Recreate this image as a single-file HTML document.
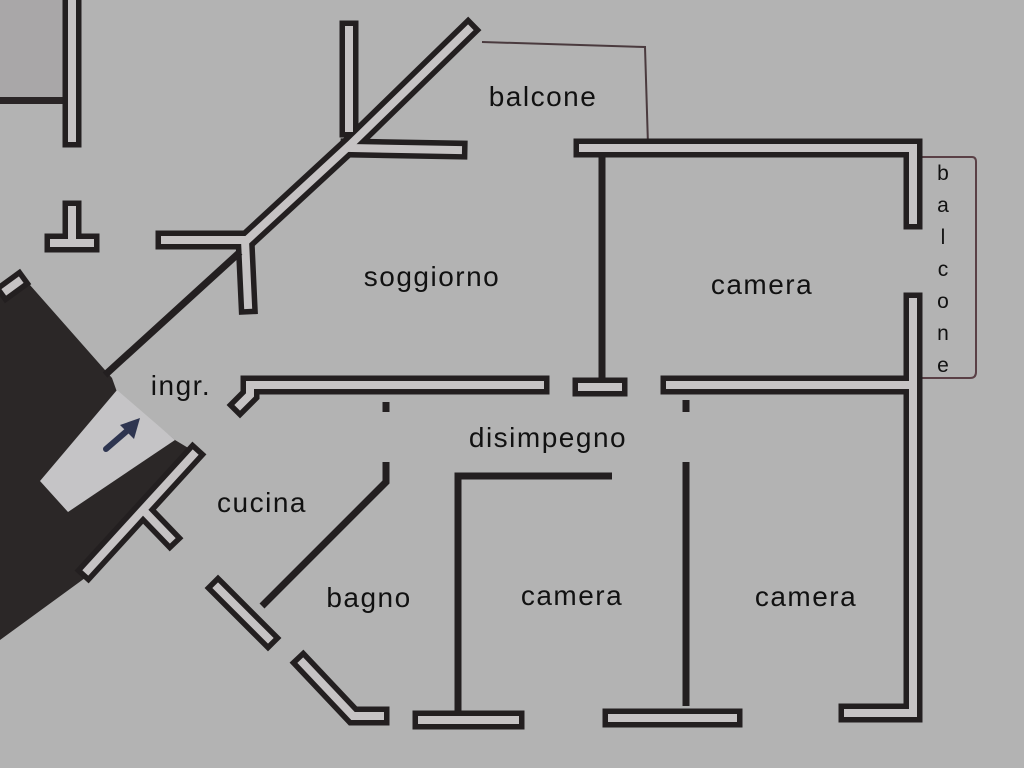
<!DOCTYPE html>
<html><head><meta charset="utf-8"><style>
html,body{margin:0;padding:0;background:#b3b3b3;}
svg{display:block}
text{font-family:"Liberation Sans",sans-serif;fill:#111;}
</style></head><body>
<svg width="1024" height="768" viewBox="0 0 1024 768">
<rect width="1024" height="768" fill="#b3b3b3"/>
<rect x="0" y="0" width="64" height="100" fill="#a9a7a8"/>
<rect x="0" y="97" width="64" height="7" fill="#2a2526"/>
<polygon points="0,292 22,276 112,378 117,392 175,440 195,452 85,578 0,640" fill="#2b2727"/>
<polygon points="40,481 117,390 175,440 68,512" fill="#c5c4c6"/>
<line x1="106" y1="449" x2="128" y2="430" stroke="#2e3550" stroke-width="6" stroke-linecap="round"/>
<polygon points="140,418 120,425 134,439" fill="#2e3550"/>
<polyline points="482,42 645,47 648,145" fill="none" stroke="#4a3a3e" stroke-width="2"/>
<path d="M915,157 H972 Q976,157 976,162 V372 Q976,378 970,378 H915" fill="none" stroke="#5a4046" stroke-width="2"/>
<g fill="none" stroke-linejoin="miter" stroke-linecap="square">
<g stroke="#231f20" stroke-width="19">
<polyline points="72,0 72,138"/>
<polyline points="72,210 72,240"/><polyline points="54,243 90,243"/>
<polyline points="349,30 349,128"/>
<polyline points="468,30 350,145 247,240"/>
<polyline points="350,148 458,150"/>
<polyline points="165,240 245,240 248,305"/>
<polyline points="7,290 18,282"/>
<polyline points="240,405 250,395 250,385 540,385"/>
<polyline points="582,387 618,387"/>
<polyline points="670,385 905,385"/>
<polyline points="583,148 913,148 913,220"/>
<polyline points="913,302 913,713 848,713"/>
<polyline points="193,455 88,570"/><polyline points="145,512 170,538"/>
<polyline points="218,588 268,638"/>
<polyline points="303,663 353,716 380,716"/>
<polyline points="422,720 515,720"/>
<polyline points="612,718 733,718"/>
</g>
<g stroke="#c6c3c4" stroke-width="8">
<polyline points="72,0 72,138"/>
<polyline points="72,210 72,240"/><polyline points="54,243 90,243"/>
<polyline points="349,30 349,128"/>
<polyline points="468,30 350,145 247,240"/>
<polyline points="350,148 458,150"/>
<polyline points="165,240 245,240 248,305"/>
<polyline points="7,290 18,282"/>
<polyline points="240,405 250,395 250,385 540,385"/>
<polyline points="582,387 618,387"/>
<polyline points="670,385 905,385"/>
<polyline points="583,148 913,148 913,220"/>
<polyline points="913,302 913,713 848,713"/>
<polyline points="193,455 88,570"/><polyline points="145,512 170,538"/>
<polyline points="218,588 268,638"/>
<polyline points="303,663 353,716 380,716"/>
<polyline points="422,720 515,720"/>
<polyline points="612,718 733,718"/>
</g>
</g>
<g fill="none" stroke="#231f20" stroke-width="7">
<polyline points="240,252 105,375"/>
<polyline points="602,155 602,378"/>
<polyline points="386,462 386,482 262,606"/>
<polyline points="386,402 386,412"/>
<polyline points="458,712 458,476 612,476"/>
<polyline points="686,462 686,706"/>
<polyline points="686,400 686,412"/>
</g>
<g font-size="28" letter-spacing="1.5">
<text x="543" y="106" text-anchor="middle">balcone</text>
<text x="432" y="286" text-anchor="middle">soggiorno</text>
<text x="762" y="294" text-anchor="middle">camera</text>
<text x="181" y="395" text-anchor="middle">ingr.</text>
<text x="548" y="447" text-anchor="middle">disimpegno</text>
<text x="262" y="512" text-anchor="middle">cucina</text>
<text x="369" y="607" text-anchor="middle">bagno</text>
<text x="572" y="605" text-anchor="middle">camera</text>
<text x="806" y="606" text-anchor="middle">camera</text>
</g>
<g font-size="21" text-anchor="middle">
<text x="943" y="180">b</text><text x="943" y="212">a</text><text x="943" y="244">l</text>
<text x="943" y="276">c</text><text x="943" y="308">o</text><text x="943" y="340">n</text>
<text x="943" y="372">e</text>
</g>
</svg>
</body></html>
